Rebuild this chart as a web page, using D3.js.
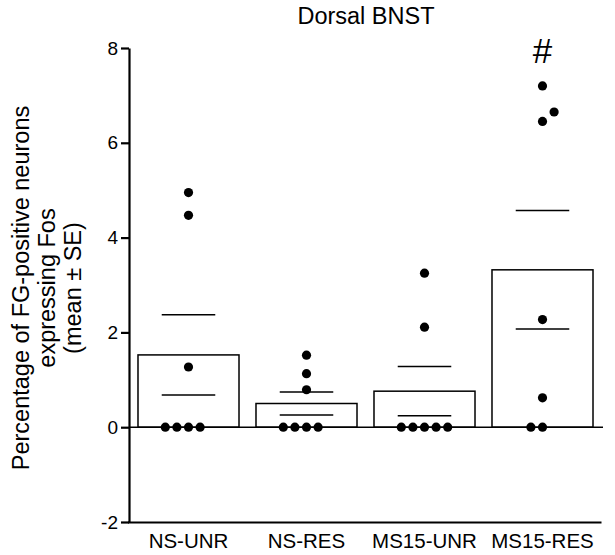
<!DOCTYPE html>
<html>
<head>
<meta charset="utf-8">
<script src="https://cdn.jsdelivr.net/npm/d3@7"></script>
<style>
  body { margin: 0; background: #fff; }
  text { font-family: "Liberation Sans", Arial, sans-serif; fill: #000; }
</style>
</head>
<body>
<div id="chart"></div>
<script>
var svgWidth = 615;
var svgHeight = 555;

// data
var groups = ["NS-UNR", "NS-RES", "MS15-UNR", "MS15-RES"];
var means = [1.525, 0.50, 0.76, 3.32];
var errors = [0.845, 0.24, 0.52, 1.25];
var nsUnr = [0, 0, 0, 0, 1.27, 4.47, 4.95];
var nsRes = [0, 0, 0, 0, 0.79, 1.13, 1.52];
var ms15Unr = [0, 0, 0, 0, 0, 2.11, 3.25];
var ms15Res = [0, 0, 0.62, 2.27, 6.45, 6.65, 7.2];
var marks = ["", "", "", "#"];
var yTicks = [-2, 0, 2, 4, 6, 8];

var points = [nsUnr, nsRes, ms15Unr, ms15Res];

var svg = d3.select("#chart")
    .append("svg")
    .attr("width", svgWidth)
    .attr("height", svgHeight);

var x = d3.scaleBand()
    .domain(groups)
    .range([129.5, 601.5])
    .paddingInner(0.144)
    .paddingOuter(0.072);

var y = d3.scaleLinear()
    .domain([-2, 8])
    .range([522, 48]);

var dotR = 4.6;
var dotStep = 11.6;

// simple beeswarm: ties get spread round the centre, near misses get nudged
function swarm(vals) {
    var sorted = vals.slice().sort((a, b) => a - b);
    var placed = [];
    var i = 0;
    while (i < sorted.length) {
        var j = i;
        while (j < sorted.length && sorted[j] === sorted[i]) j++;
        var n = j - i;
        if (n > 1) {
            for (var k = 0; k < n; k++) {
                placed.push({v: sorted[i], off: k - Math.floor(n / 2)});
            }
        } else {
            var tries = [0, 1, -1, 2, -2, 3, -3];
            for (var t = 0; t < tries.length; t++) {
                var ok = placed.every(p => {
                    var dx = (p.off - tries[t]) * dotStep;
                    var dy = y(p.v) - y(sorted[i]);
                    return Math.sqrt(dx * dx + dy * dy) > dotR * 2 + 1;
                });
                if (ok) { placed.push({v: sorted[i], off: tries[t]}); break; }
            }
        }
        i = j;
    }
    return placed;
}

// y axis (plain hyphen for the minus, like the original)
var yAxis = d3.axisLeft(y)
    .tickValues(yTicks)
    .tickFormat(d => String(d))
    .tickSize(8)
    .tickSizeOuter(0)
    .tickPadding(3);

var gy = svg.append("g")
    .attr("transform", "translate(129,0)")
    .call(yAxis);
gy.select(".domain").attr("stroke-width", 2.2);
gy.selectAll(".tick line").attr("stroke-width", 2.2);
gy.selectAll(".tick text").style("font-size", "19px");

// x axis along the bottom (-2)
var xAxis = d3.axisBottom(x).tickSize(0).tickSizeOuter(0).tickPadding(11);
var gx = svg.append("g")
    .attr("transform", `translate(0,${y(-2)})`)
    .call(xAxis);
gx.select(".domain").attr("stroke-width", 2.2).attr("d", "M128,0.5H601.5");
gx.selectAll(".tick text").style("font-size", "20.5px");

// bars
svg.selectAll(".bar")
    .data(groups)
    .enter()
    .append("rect")
    .attr("class", "bar")
    .attr("x", d => x(d))
    .attr("width", x.bandwidth())
    .attr("y", (d, i) => y(means[i]))
    .attr("height", (d, i) => y(0) - y(means[i]))
    .attr("fill", "#fff")
    .attr("stroke", "#000")
    .attr("stroke-width", 1.5);

// zero line
svg.append("line")
    .attr("x1", 129).attr("x2", 603)
    .attr("y1", y(0)).attr("y2", y(0))
    .attr("stroke", "#000")
    .attr("stroke-width", 1.6);

// mean +/- SE lines
var seW = x.bandwidth() * 0.53;
groups.forEach((g, i) => {
    var cx = x(g) + x.bandwidth() / 2;
    [means[i] + errors[i], means[i] - errors[i]].forEach(v => {
        svg.append("line")
            .attr("x1", cx - seW / 2).attr("x2", cx + seW / 2)
            .attr("y1", y(v)).attr("y2", y(v))
            .attr("stroke", "#000")
            .attr("stroke-width", 1.5);
    });

    // individual animals
    svg.selectAll(null)
        .data(swarm(points[i]))
        .enter()
        .append("circle")
        .attr("cx", d => cx + d.off * dotStep)
        .attr("cy", d => y(d.v))
        .attr("r", dotR)
        .attr("fill", "#000");

    if (marks[i]) {
        svg.append("text")
            .attr("x", cx)
            .attr("y", y(d3.max(points[i])) - 23)
            .attr("text-anchor", "middle")
            .style("font-size", "35px")
            .text(marks[i]);
    }
});

// title
svg.append("text")
    .attr("x", 366)
    .attr("y", 24)
    .attr("text-anchor", "middle")
    .style("font-size", "23.5px")
    .text("Dorsal BNST");

// y label, three lines
var yLabel = ["Percentage of FG-positive neurons", "expressing Fos", "(mean \u00b1 SE)"];
var yLabelX = [29, 55, 81];
yLabel.forEach((t, i) => {
    svg.append("text")
        .attr("transform", `translate(${yLabelX[i]},288) rotate(-90)`)
        .attr("text-anchor", "middle")
        .style("font-size", "23.5px")
        .text(t);
});
</script>
</body>
</html>
